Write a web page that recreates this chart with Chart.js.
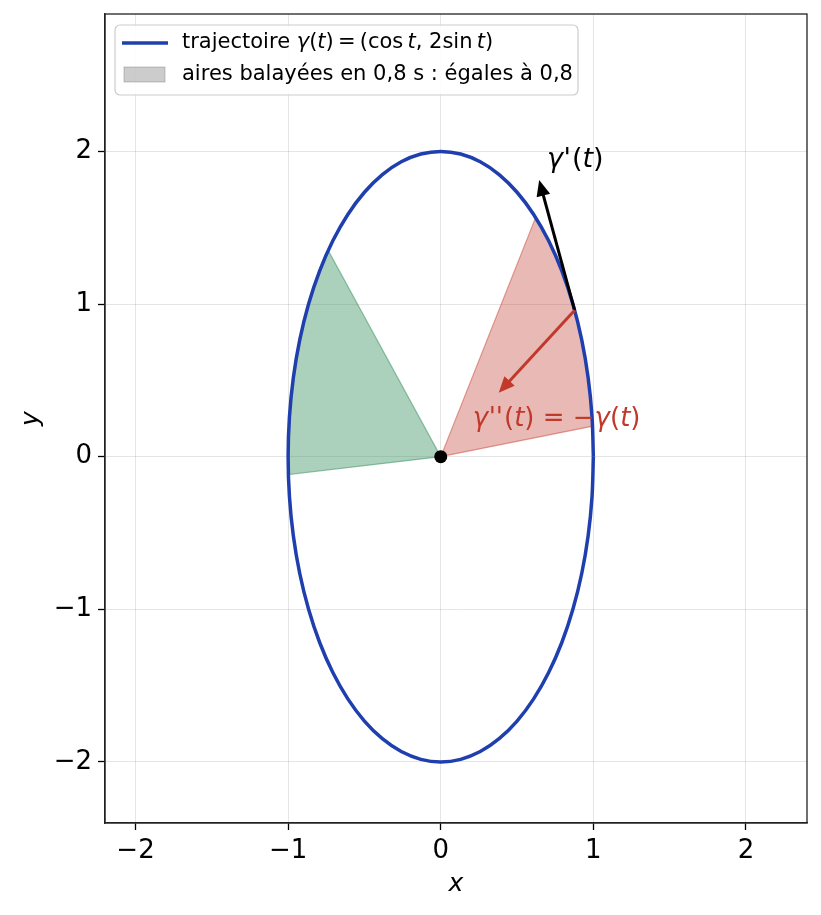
<!DOCTYPE html>
<html><head><meta charset="utf-8">
<script src="https://cdn.jsdelivr.net/npm/chart.js@4.4.1/dist/chart.umd.min.js"></script>
<style>html,body{margin:0;padding:0;background:#fff}#wrap{width:821px;height:915px;position:relative}</style>
</head><body><div id="wrap"><canvas id="c"></canvas></div>
<script>
// Trajectory points (read from the ellipse x=cos t, y=2 sin t)
const ellipseX = [1, .9914, .9659, .9239, .8660, .7934, .7071, .6088, .5, .3827, .2588, .1305, 0,
  -.1305, -.2588, -.3827, -.5, -.6088, -.7071, -.7934, -.8660, -.9239, -.9659, -.9914, -1,
  -.9914, -.9659, -.9239, -.8660, -.7934, -.7071, -.6088, -.5, -.3827, -.2588, -.1305, 0,
  .1305, .2588, .3827, .5, .6088, .7071, .7934, .8660, .9239, .9659, .9914, 1];
const ellipseY = [0, .2611, .5176, .7654, 1, 1.2175, 1.4142, 1.5867, 1.7321, 1.8478, 1.9319, 1.9829, 2,
  1.9829, 1.9319, 1.8478, 1.7321, 1.5867, 1.4142, 1.2175, 1, .7654, .5176, .2611, 0,
  -.2611, -.5176, -.7654, -1, -1.2175, -1.4142, -1.5867, -1.7321, -1.8478, -1.9319, -1.9829, -2,
  -1.9829, -1.9319, -1.8478, -1.7321, -1.5867, -1.4142, -1.2175, -1, -.7654, -.5176, -.2611, 0];
// Swept area t in [0.1, 0.9]
const redWedgeX = [0, .9950, .9801, .9553, .9211, .8776, .8253, .7648, .6967, .6216, 0];
const redWedgeY = [0, .1997, .3973, .5910, .7788, .9589, 1.1293, 1.2884, 1.4347, 1.5667, 0];
// Swept area t in [2.4, 3.2]
const greenWedgeX = [0, -.7374, -.8011, -.8569, -.9041, -.9422, -.9710, -.9900, -.9991, -.9983, 0];
const greenWedgeY = [0, 1.3509, 1.1969, 1.0311, .8546, .6700, .4785, .2822, .0831, -.1167, 0];
const originX = [0];
const originY = [0];
// Arrows [x0, y0, x1, y1] in data units
const velocityArrow = [0.8776, 0.9589, 0.645, 1.812];
const accelArrow = [0.8776, 0.9589, 0.380, 0.418];
// Annotation anchors (left, baseline) in data units
const velLabelPos = [0.696, 1.90];
const accLabelPos = [0.21, 0.20];
const xTicks = [-2, -1, 0, 1, 2];
const yTicks = [-2, -1, 0, 1, 2];
const legendLabels = ['trajectoire', 'aires balayées en 0,8 s : égales à 0,8'];

const BLUE = '#1f3fae';
const RED = '#c0392b';
const FF = '"DejaVu Sans"';

function pts(xs, ys){ return xs.map((x,i)=>({x, y: ys[i]})); }
function fmt(v){ return String(v).replace('-', '\u2212'); }

function drawRich(ctx, segs, x, y, size, color){
  ctx.save();
  ctx.fillStyle = color; ctx.textBaseline = 'alphabetic'; ctx.textAlign = 'left';
  let cx = x;
  for (const s of segs){
    ctx.font = (s.i ? 'italic ' : '') + size + 'px ' + FF;
    ctx.fillText(s.t, cx, y);
    cx += ctx.measureText(s.t).width + (s.gap||0)*size;
  }
  ctx.restore();
}
function drawArrow(ctx, x0, y0, x1, y1, color, lw, hl, hw){
  const dx = x1-x0, dy = y1-y0, L = Math.hypot(dx, dy);
  const ux = dx/L, uy = dy/L;
  const bx = x1 - ux*hl, by = y1 - uy*hl;
  ctx.save();
  ctx.strokeStyle = color; ctx.fillStyle = color; ctx.lineWidth = lw; ctx.lineCap = 'butt';
  ctx.beginPath(); ctx.moveTo(x0, y0); ctx.lineTo(bx+ux*2, by+uy*2); ctx.stroke();
  ctx.beginPath(); ctx.moveTo(x1, y1);
  ctx.lineTo(bx - uy*hw/2, by + ux*hw/2);
  ctx.lineTo(bx + uy*hw/2, by - ux*hw/2);
  ctx.closePath(); ctx.fill();
  ctx.restore();
}

const overlay = {
  id: 'overlay',
  afterDatasetsDraw(chart){
    const ctx = chart.ctx, xs = chart.scales.x, ys = chart.scales.y;
    const P = (x,y)=>[xs.getPixelForValue(x), ys.getPixelForValue(y)];
    let a = P(velocityArrow[0], velocityArrow[1]), b = P(velocityArrow[2], velocityArrow[3]);
    drawArrow(ctx, a[0], a[1], b[0], b[1], '#000', 3, 16, 14);
    a = P(accelArrow[0], accelArrow[1]); b = P(accelArrow[2], accelArrow[3]);
    drawArrow(ctx, a[0], a[1], b[0], b[1], RED, 3, 16, 14);
    const o = P(originX[0], originY[0]);
    ctx.save(); ctx.fillStyle = '#000'; ctx.beginPath(); ctx.arc(o[0], o[1], 6.5, 0, Math.PI*2); ctx.fill(); ctx.restore();
    let p = P(velLabelPos[0], velLabelPos[1]);
    drawRich(ctx, [{t:'γ', i:1, gap:0.02}, {t:"'", i:1, gap:0.04}, {t:'('}, {t:'t', i:1}, {t:')'}], p[0], p[1], 27, '#000');
    p = P(accLabelPos[0], accLabelPos[1]);
    drawRich(ctx, [{t:'γ', i:1, gap:0.02}, {t:"''", i:1, gap:0.04}, {t:'('}, {t:'t', i:1}, {t:') = −'}, {t:'γ', i:1}, {t:'('}, {t:'t', i:1}, {t:')'}], p[0], p[1], 26, RED);
  },
  afterDraw(chart){
    const ctx = chart.ctx, ca = chart.chartArea;
    ctx.save(); ctx.strokeStyle = '#222'; ctx.lineWidth = 1.3;
    ctx.strokeRect(ca.left, ca.top, ca.right-ca.left, ca.bottom-ca.top); ctx.restore();
    ctx.save();
    ctx.fillStyle = '#000'; ctx.font = 'italic 25px ' + FF; ctx.textAlign = 'center'; ctx.textBaseline = 'middle';
    ctx.fillText('x', (ca.left+ca.right)/2, 884);
    ctx.translate(31, (ca.top+ca.bottom)/2); ctx.rotate(-Math.PI/2);
    ctx.fillText('y', 0, 0);
    ctx.restore();
    const lx = ca.left + 10, ly = ca.top + 11, lw = 463, lh = 70, r = 5;
    ctx.save();
    ctx.beginPath();
    ctx.moveTo(lx+r, ly); ctx.lineTo(lx+lw-r, ly); ctx.arcTo(lx+lw, ly, lx+lw, ly+r, r);
    ctx.lineTo(lx+lw, ly+lh-r); ctx.arcTo(lx+lw, ly+lh, lx+lw-r, ly+lh, r);
    ctx.lineTo(lx+r, ly+lh); ctx.arcTo(lx, ly+lh, lx, ly+lh-r, r);
    ctx.lineTo(lx, ly+r); ctx.arcTo(lx, ly, lx+r, ly, r); ctx.closePath();
    ctx.fillStyle = 'rgba(255,255,255,0.85)'; ctx.fill();
    ctx.strokeStyle = '#cccccc'; ctx.lineWidth = 1.2; ctx.stroke();
    ctx.strokeStyle = BLUE; ctx.lineWidth = 3.4;
    ctx.beginPath(); ctx.moveTo(lx+7, ly+18); ctx.lineTo(lx+53, ly+18); ctx.stroke();
    ctx.fillStyle = 'rgba(128,128,128,0.4)'; ctx.fillRect(lx+9, ly+42, 41, 15);
    ctx.strokeStyle = 'rgba(128,128,128,0.45)'; ctx.lineWidth = 1; ctx.strokeRect(lx+9, ly+42, 41, 15);
    ctx.restore();
    drawRich(ctx, [{t:legendLabels[0] + ' '}, {t:'γ', i:1}, {t:'('}, {t:'t', i:1}, {t:')\u2009=\u2009(cos\u2009'}, {t:'t', i:1}, {t:', 2sin\u2009'}, {t:'t', i:1}, {t:')'}], lx+67, ly+23, 21, '#000');
    drawRich(ctx, [{t:legendLabels[1]}], lx+67, ly+55, 21, '#000');
  }
};

const axisCommon = {
  type: 'linear',
  ticks: { font: { family: 'DejaVu Sans', size: 26 }, color: '#000', padding: 6, callback: v => fmt(v), autoSkip: false, maxRotation: 0 },
  grid: { color: 'rgba(0,0,0,0.1)', lineWidth: 1, tickColor: '#000', tickLength: 7, tickWidth: 1.3 },
  border: { color: '#222', width: 1.3 }
};

new Chart(document.getElementById('c'), {
  type: 'scatter',
  data: { datasets: [
    { label: 'origin', data: pts(originX, originY), pointRadius: 0, showLine: false, order: 0 },
    { label: 'trajectoire', data: pts(ellipseX, ellipseY), showLine: true, borderColor: BLUE, borderWidth: 3.5, pointRadius: 0, tension: 0.35, fill: false, order: 1 },
    { label: 'red', data: pts(redWedgeX, redWedgeY), showLine: true, borderColor: 'rgba(192,57,43,0.45)', borderWidth: 1.2, backgroundColor: 'rgba(192,57,43,0.35)', pointRadius: 0, tension: 0, fill: 'shape', order: 3 },
    { label: 'green', data: pts(greenWedgeX, greenWedgeY), showLine: true, borderColor: 'rgba(46,139,87,0.5)', borderWidth: 1.2, backgroundColor: 'rgba(46,139,87,0.4)', pointRadius: 0, tension: 0, fill: 'shape', order: 3 }
  ]},
  options: {
    responsive: true, maintainAspectRatio: false, animation: false,
    layout: { padding: { top: 14, right: 14, left: 0, bottom: 0 } },
    plugins: { legend: { display: false }, tooltip: { enabled: false } },
    scales: {
      x: Object.assign({}, axisCommon, { min: -2.2, max: 2.4,
        afterBuildTicks: s => { s.ticks = xTicks.map(v => ({ value: v })); },
        afterFit: s => { s.height = 92; s.paddingLeft = 0; s.paddingRight = 0; } }),
      y: Object.assign({}, axisCommon, { min: -2.4, max: 2.9,
        afterBuildTicks: s => { s.ticks = yTicks.map(v => ({ value: v })); },
        afterFit: s => { s.width = 105; s.paddingTop = 0; s.paddingBottom = 0; } })
    }
  },
  plugins: [overlay]
});
</script></body></html>
